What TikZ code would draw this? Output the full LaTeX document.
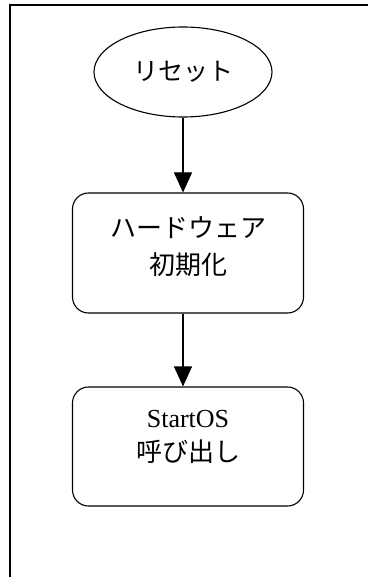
\documentclass[tikz,border=0pt]{standalone}
\usepackage{fontspec}
\setmainfont{Liberation Serif}
\newfontfamily\jpfont{Noto Sans CJK JP}
\usetikzlibrary{arrows.meta,shapes.geometric}
\begin{document}
\begin{tikzpicture}[x=1pt,y=-1pt,
  shapeline/.style={draw=black,line width=1.1pt},
  procbox/.style={shapeline,rounded corners=16pt,minimum width=231pt,minimum height=120pt,inner sep=0pt},
  jptext/.style={font=\jpfont\fontsize{26}{30}\selectfont,inner sep=0pt},
  entext/.style={font=\fontsize{26}{30}\selectfont,inner sep=0pt},
  flow/.style={line width=1.1pt,-{Triangle[width=18pt,length=20pt]}}]
\useasboundingbox (0,0) rectangle (367,577);
\draw[line width=1.6pt] (10,578) -- (10,5) -- (368,5);
\node[shapeline,ellipse,minimum width=178pt,minimum height=90pt,inner sep=0pt] (reset) at (183,72) {};
\node[jptext,font=\jpfont\fontsize{25}{30}\selectfont] (resett) at (183,72) {リセット};
\node[procbox] (hw) at (188,253) {};
\node[jptext] (hwt1) at (188,228) {ハードウェア};
\node[jptext] (hwt2) at (188,265) {初期化};
\node[procbox,minimum height=119pt] (os) at (188,446.5) {};
\node[entext] (ost1) at (188,419) {StartOS};
\node[jptext] (ost2) at (188,452) {呼び出し};
\draw[flow] (reset.south) -- (reset.south |- hw.north);
\draw[flow] (reset.south |- hw.south) -- (reset.south |- os.north);
\end{tikzpicture}
\end{document}
